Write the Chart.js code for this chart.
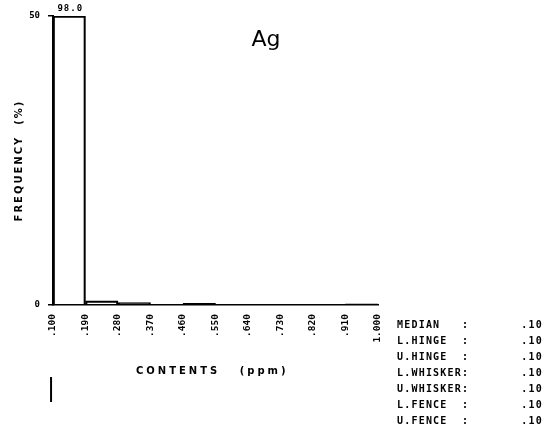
<!DOCTYPE html>
<html>
<head>
<meta charset="utf-8">
<script src="https://cdn.jsdelivr.net/npm/chart.js@4.4.1/dist/chart.umd.min.js"></script>
<style>
  html, body { margin: 0; padding: 0; background: #fff; }
  canvas { display: block; }
</style>
</head>
<body>
<canvas id="hist" width="549" height="447"></canvas>
<script>
// Ag histogram: bin centres (ppm) and frequency (%)
const binCenters = [0.145, 0.235, 0.325, 0.415, 0.505, 0.595, 0.685, 0.775, 0.865, 0.955];
const frequencies = [98.0, 0.7, 0.4, 0.0, 0.3, 0.0, 0.0, 0.0, 0.0, 0.2];
const xTicks = [0.1, 0.19, 0.28, 0.37, 0.46, 0.55, 0.64, 0.73, 0.82, 0.91, 1.0];
const xTickLabels = ['.100', '.190', '.280', '.370', '.460', '.550', '.640', '.730', '.820', '.910', '1.000'];
const yTicks = [0, 50];
const yMax = 50;
const statLabels = ['MEDIAN   :', 'L.HINGE  :', 'U.HINGE  :', 'L.WHISKER:', 'U.WHISKER:', 'L.FENCE  :', 'U.FENCE  :'];
const statValues = ['.10', '.10', '.10', '.10', '.10', '.10', '.10'];
const element = 'Ag';

const MONO = '"DejaVu Sans Mono", monospace';
const SANS = '"DejaVu Sans", sans-serif';

// bars taller than the axis are cut at the top and labelled with their value
const overflowLabels = {
  id: 'overflowLabels',
  afterDatasetsDraw(chart) {
    const ctx = chart.ctx;
    const meta = chart.getDatasetMeta(0);
    ctx.save();
    ctx.fillStyle = '#000';
    ctx.font = 'bold 9px ' + MONO;
    ctx.letterSpacing = '1px';
    ctx.textAlign = 'center';
    ctx.textBaseline = 'bottom';
    frequencies.forEach((v, i) => {
      if (v > yMax) {
        const bar = meta.data[i];
        ctx.fillText(v.toFixed(1), bar.x + 1, bar.y - 3);
      }
    });
    ctx.restore();
  }
};

// titles and the summary table
const annotations = {
  id: 'annotations',
  afterDraw(chart) {
    const ctx = chart.ctx;
    const a = chart.chartArea;
    ctx.save();
    ctx.fillStyle = '#000';

    ctx.font = '22px ' + SANS;
    ctx.textAlign = 'center';
    ctx.textBaseline = 'alphabetic';
    ctx.fillText(element, a.left + 213, a.top + 30);

    ctx.font = 'bold 10px ' + SANS;
    ctx.letterSpacing = '3px';
    ctx.textAlign = 'left';
    ctx.fillText('CONTENTS   (ppm)', 136, 374);

    ctx.save();
    ctx.translate(22, (a.top + a.bottom) / 2);
    ctx.rotate(-Math.PI / 2);
    ctx.letterSpacing = '2px';
    ctx.textAlign = 'center';
    ctx.fillText('FREQUENCY  (%)', 0, 0);
    ctx.restore();

    ctx.letterSpacing = '0px';
    ctx.font = '24px ' + SANS;
    ctx.fillText('|', 47, 396);

    ctx.font = 'bold 10px ' + MONO;
    ctx.letterSpacing = '1.2px';
    ctx.textBaseline = 'middle';
    statLabels.forEach((s, i) => {
      const y = a.bottom + 20 + i * 16;
      ctx.textAlign = 'left';
      ctx.fillText(s, 397, y);
      ctx.textAlign = 'right';
      ctx.fillText(statValues[i], 543, y);
    });
    ctx.restore();
  }
};

new Chart(document.getElementById('hist'), {
  type: 'bar',
  data: {
    datasets: [{
      data: binCenters.map((x, i) => ({ x, y: Math.min(frequencies[i], yMax) })),
      backgroundColor: 'rgba(255,255,255,0)',
      borderColor: '#000',
      borderWidth: 1.5,
      borderSkipped: 'start',
      barPercentage: 1,
      categoryPercentage: 1
    }]
  },
  options: {
    responsive: false,
    animation: false,
    layout: { padding: { left: 0, top: 16, right: 171, bottom: 0 } },
    plugins: { legend: { display: false }, tooltip: { enabled: false } },
    scales: {
      x: {
        type: 'linear',
        offset: false,
        min: 0.1,
        max: 1.0,
        afterBuildTicks: s => { s.ticks = xTicks.map(v => ({ value: v })); },
        afterFit: s => { s.height = 142; },
        grid: { display: false },
        border: { display: true, color: '#000', width: 1.5 },
        ticks: {
          color: '#000',
          font: { family: MONO, size: 9.5, weight: 'bold' },
          minRotation: 90,
          maxRotation: 90,
          padding: 1,
          autoSkip: false,
          callback: (v, i) => xTickLabels[i]
        }
      },
      y: {
        min: 0,
        max: yMax,
        afterBuildTicks: s => { s.ticks = yTicks.map(v => ({ value: v })); },
        afterFit: s => { s.width = 53; },
        grid: { drawOnChartArea: false, color: '#000', tickLength: 5, lineWidth: 1.5 },
        border: { display: true, color: '#000', width: 2 },
        ticks: {
          color: '#000',
          font: { family: MONO, size: 9, weight: 'bold' },
          padding: 8
        }
      }
    }
  },
  plugins: [overflowLabels, annotations]
});
</script>
</body>
</html>
